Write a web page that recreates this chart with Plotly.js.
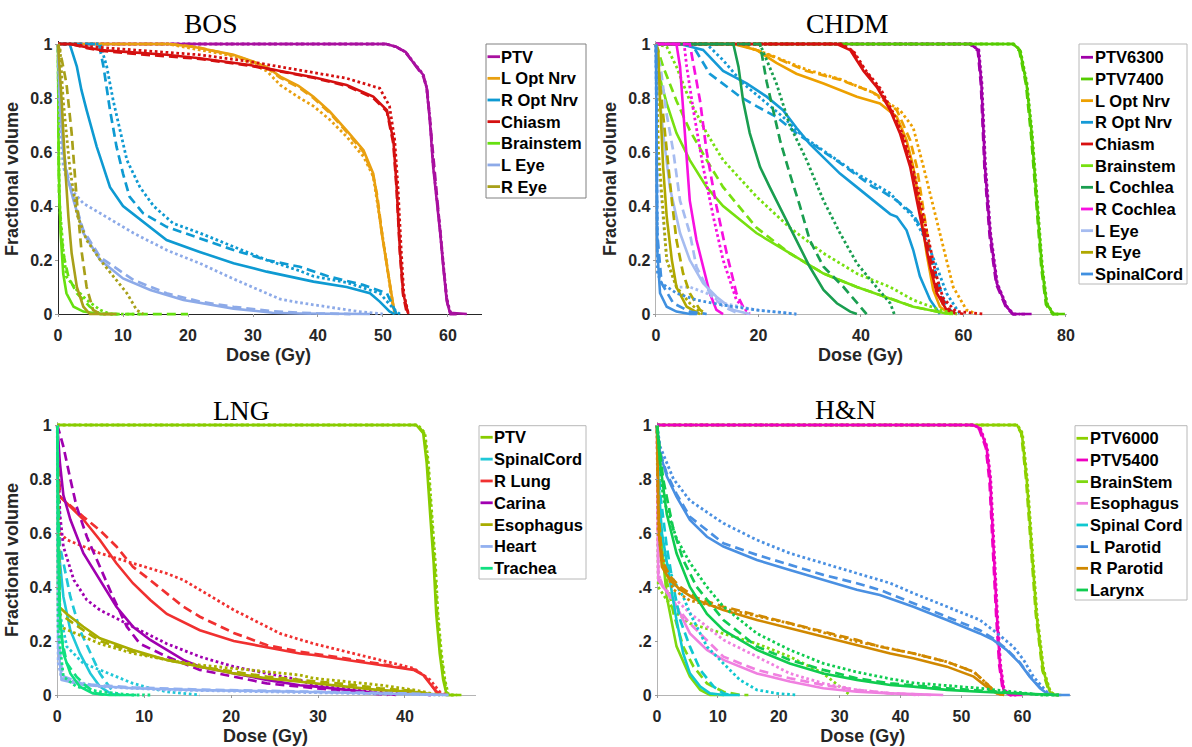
<!DOCTYPE html>
<html><head><meta charset="utf-8">
<script src="https://cdn.plot.ly/plotly-3.0.1.min.js"></script>
<style>html,body{margin:0;padding:0;background:#fff}#chart{width:1192px;height:747px}</style>
</head><body><div id="chart"></div>
<script>
// ================= DATA: BOS =================
const BOS_NAMES = ['PTV','L Opt Nrv','R Opt Nrv','Chiasm','Brainstem','L Eye','R Eye'];
const BOS_COLORS = ['#A8109F','#E9A010','#0E9AD2','#D41010','#66E010','#8DAAE8','#A8A01A'];
const BOS_PTV = [[0,1],[50.5,1],[52,0.99],[53.5,0.97],[54.7,0.93],[56.2,0.885],[56.7,0.84],[57.2,0.72],[57.7,0.55],[58.3,0.42],[58.8,0.30],[59.3,0.17],[59.8,0.05],[60.3,0.005],[62.9,0]];
const BOS_PTV_DASH = [[0,1],[50.5,1],[52,0.99],[53.5,0.968],[54.7,0.93],[56.2,0.88],[56.8,0.83],[57.3,0.70],[57.8,0.54],[58.4,0.40],[58.9,0.28],[59.4,0.15],[59.9,0.04],[60.4,0],[61.5,0]];
const BOS_PTV_DOT = [[0,1],[50.5,1],[52,0.99],[53.5,0.97],[54.7,0.932],[56.2,0.887],[56.7,0.84],[57.2,0.73],[57.7,0.56],[58.3,0.43],[58.8,0.31],[59.3,0.18],[59.8,0.06],[60.3,0.01],[61,0]];
const BOS_LON = [[0,1],[17,1],[20.8,0.99],[24,0.975],[27,0.96],[30,0.935],[32.1,0.915],[34.2,0.879],[37,0.845],[39.3,0.805],[41.8,0.75],[44.4,0.68],[47,0.607],[48.5,0.52],[49,0.447],[49.8,0.30],[50.6,0.175],[51.4,0.05],[51.8,0]];
const BOS_LON_DASH = [[0,1],[17,1],[21,0.99],[24,0.975],[27,0.958],[30,0.935],[32.1,0.912],[34.2,0.875],[37,0.84],[39.3,0.8],[41.8,0.745],[44.4,0.675],[47,0.6],[48.5,0.51],[49.1,0.44],[49.9,0.29],[50.7,0.16],[51.5,0.04],[51.9,0]];
const BOS_LON_DOT = [[0,1],[17,1],[21.8,0.978],[25,0.965],[28,0.948],[32.1,0.9],[34.2,0.848],[37.2,0.8],[39.3,0.77],[41.8,0.72],[44.4,0.657],[47,0.583],[48.5,0.51],[49.5,0.36],[50.5,0.2],[51.2,0.08],[51.8,0]];
const BOS_RON = [[0,1],[1.8,1],[2.9,0.916],[3.6,0.83],[4.4,0.755],[5.2,0.68],[5.95,0.62],[6.5,0.58],[8,0.47],[10,0.4],[12.6,0.35],[16.7,0.274],[21.8,0.23],[27,0.188],[32.1,0.157],[37.2,0.132],[39.3,0.12],[44.4,0.10],[48,0.077],[49.5,0.046],[51,0.01],[51.8,0]];
const BOS_RON_DASH = [[0,1],[6.3,1],[7,0.916],[8,0.755],[9,0.62],[10,0.52],[11,0.435],[13.1,0.373],[16.7,0.323],[21.8,0.28],[27,0.237],[32.1,0.2],[37.2,0.175],[41.8,0.138],[46.9,0.108],[50.6,0.077],[51.5,0.03],[52.1,0]];
const BOS_RON_DOT = [[0,1],[6.5,1],[7.5,0.916],[8.5,0.79],[10.6,0.57],[12.6,0.47],[14.7,0.4],[17.7,0.336],[21.8,0.3],[27,0.25],[32.1,0.2],[37.2,0.16],[39.3,0.14],[44.4,0.117],[49.5,0.077],[51.8,0.015],[52.6,0]];
const BOS_CHI = [[0,1],[1.8,1],[4,0.99],[6.5,0.978],[11,0.97],[16.7,0.96],[21.8,0.947],[29.5,0.922],[34.2,0.9],[39.3,0.877],[44.4,0.848],[48.5,0.805],[50.6,0.755],[51.6,0.644],[52.1,0.47],[52.6,0.237],[53.1,0.077],[53.9,0]];
const BOS_CHI_DASH = [[0,1],[2,1],[4.5,0.985],[6.5,0.975],[11,0.965],[16.7,0.955],[21.8,0.945],[29.5,0.92],[34.2,0.898],[39.3,0.875],[44.4,0.845],[48.5,0.8],[50.6,0.75],[51.6,0.63],[52.1,0.46],[52.6,0.23],[53.1,0.07],[53.7,0]];
const BOS_CHI_DOT = [[0,1],[2.5,1],[5,0.99],[11,0.98],[16.7,0.968],[21.8,0.96],[29.5,0.935],[34.2,0.916],[39.3,0.895],[44.4,0.873],[49.5,0.836],[51,0.77],[51.8,0.644],[52.3,0.47],[52.8,0.237],[53.2,0.077],[53.9,0]];
const BOS_BST = [[0,1],[0.1,0.55],[0.4,0.3],[0.8,0.15],[1.3,0.077],[2.4,0.027],[3.9,0.009],[6,0.002],[9,0]];
const BOS_BST_DASH = [[0,1],[0.15,0.45],[0.5,0.3],[0.8,0.225],[1.6,0.138],[2.9,0.077],[4.9,0.027],[6.5,0],[20,0]];
const BOS_BST_DOT = [[0,1],[0.2,0.42],[0.8,0.237],[1.3,0.138],[2.9,0.089],[4.4,0.052],[6.5,0.015],[8,0],[13,0]];
const BOS_LEYE = [[0,1],[0.3,0.79],[0.8,0.607],[1.3,0.52],[2.4,0.42],[3.9,0.3],[6.5,0.2],[10,0.132],[14.2,0.089],[19.3,0.052],[27,0.02],[33,0.005],[37.2,0.002],[48,0]];
const BOS_LEYE_DASH = [[0,1],[0.3,0.8],[0.8,0.62],[1.3,0.53],[2.4,0.43],[3.9,0.31],[6.5,0.21],[11.6,0.126],[16.7,0.077],[21.8,0.046],[27,0.027],[33,0.01],[40,0.002],[45,0]];
const BOS_LEYE_DOT = [[0,1],[0.3,0.7],[0.8,0.55],[1.3,0.5],[2.4,0.45],[3.9,0.41],[6.5,0.373],[11.6,0.3],[16.7,0.237],[21.8,0.188],[27,0.13],[32.1,0.075],[34.2,0.055],[37.2,0.042],[42,0.025],[46,0.01],[50,0]];
const BOS_REYE = [[0,1],[0.3,0.9],[0.56,0.79],[1.1,0.545],[1.6,0.36],[2.1,0.225],[2.9,0.1],[3.9,0.027],[4.9,0],[9,0]];
const BOS_REYE_DASH = [[0,1],[0.6,0.94],[1.3,0.854],[2.1,0.67],[2.9,0.42],[3.6,0.237],[4.4,0.1],[5.4,0.015],[6.5,0],[9,0]];
const BOS_REYE_DOT = [[0,1],[0.3,0.99],[0.8,0.79],[1.8,0.545],[2.9,0.37],[4.4,0.274],[6.5,0.2],[8.5,0.138],[10.6,0.077],[12.1,0.015],[13.1,0]];

// ================= DATA: CHDM =================
const CHDM_NAMES = ['PTV6300','PTV7400','L Opt Nrv','R Opt Nrv','Chiasm','Brainstem','L Cochlea','R Cochlea','L Eye','R Eye','SpinalCord'];
const CHDM_COLORS = ['#A000A8','#55CC00','#EDA000','#159AD6','#D81010','#77E010','#1A9E50','#F810E0','#A6BCF0','#B0A800','#4090E0'];
const CH_P63 = [[0,1],[61.3,1],[62.9,0.978],[63.5,0.854],[64.2,0.545],[65.2,0.3],[66.5,0.114],[68.4,0.027],[69.7,0],[73.3,0]];
const CH_P63_DASH = [[0,1],[61.2,1],[62.8,0.975],[63.4,0.85],[64.1,0.54],[65.1,0.29],[66.4,0.11],[68.3,0.025],[69.6,0],[72,0]];
const CH_P63_DOT = [[0,1],[61.4,1],[63,0.978],[63.6,0.854],[64.3,0.55],[65.3,0.3],[66.6,0.114],[68.5,0.027],[69.8,0],[71,0]];
const CH_P74 = [[0,1],[69.7,1],[71,0.978],[72.3,0.854],[73.3,0.67],[74.3,0.42],[75.3,0.175],[76.2,0.04],[77.5,0],[79.8,0]];
const CH_P74_DASH = [[0,1],[69.6,1],[70.9,0.975],[72.2,0.85],[73.2,0.66],[74.2,0.41],[75.2,0.17],[76.1,0.035],[77.4,0],[78.5,0]];
const CH_P74_DOT = [[0,1],[69.8,1],[71.1,0.978],[72.4,0.854],[73.4,0.67],[74.4,0.42],[75.4,0.175],[76.3,0.04],[77.6,0],[78.5,0]];
const CH_LON = [[0,1],[15.1,1],[19.6,0.978],[23.5,0.93],[27.4,0.89],[32.7,0.854],[39.2,0.805],[43.7,0.78],[47,0.73],[48.9,0.644],[50.2,0.545],[51.5,0.4],[52.8,0.225],[54.1,0.089],[55.4,0.027],[57.4,0]];
const CH_LON_DASH = [[0,1],[16,1],[20,0.975],[22.9,0.953],[29.4,0.9],[35.9,0.868],[42.4,0.82],[43.7,0.805],[47,0.755],[49.6,0.644],[50.9,0.545],[52.8,0.32],[54.1,0.15],[56.1,0.027],[58,0]];
const CH_LON_DOT = [[0,1],[16,1],[20,0.975],[22.9,0.955],[29.4,0.905],[35.9,0.87],[42.4,0.82],[43.7,0.8],[47.6,0.755],[50.2,0.69],[52.2,0.545],[54.1,0.4],[56.1,0.237],[58,0.1],[60.6,0.015],[62.6,0]];
const CH_RON = [[0,1],[4.7,1],[9.2,0.978],[13.1,0.9],[17.7,0.854],[21.6,0.805],[24.8,0.755],[27.4,0.69],[30,0.63],[32.7,0.58],[35.9,0.52],[39.2,0.47],[42.4,0.42],[45.7,0.37],[47,0.36],[48.9,0.31],[50.2,0.237],[51.5,0.14],[53.5,0.052],[55.4,0]];
const CH_RON_DASH = [[0,1],[7,1],[10.5,0.89],[16.4,0.805],[19.6,0.77],[23.5,0.73],[27.4,0.67],[31.3,0.62],[35.9,0.56],[42.4,0.47],[43.7,0.46],[47,0.42],[50.2,0.37],[52.2,0.3],[54.1,0.175],[56.1,0.052],[58,0]];
const CH_RON_DOT = [[0,1],[9.9,1],[13.1,0.94],[17,0.854],[21,0.79],[24.8,0.73],[28.7,0.657],[32.6,0.605],[39.2,0.52],[45.7,0.447],[47,0.42],[50.2,0.36],[52.8,0.27],[54.8,0.175],[56.7,0.077],[59.3,0]];
const CH_CHI = [[0,1],[35.3,1],[37.9,0.978],[40.5,0.9],[43.1,0.84],[45.7,0.755],[47.6,0.67],[49.6,0.545],[50.9,0.42],[52.2,0.3],[53.5,0.175],[54.8,0.077],[56.7,0.015],[58.7,0]];
const CH_CHI_DASH = [[0,1],[35.8,1],[38.3,0.975],[40.8,0.9],[43.5,0.835],[46,0.75],[48,0.66],[50,0.53],[51.3,0.41],[52.6,0.29],[54,0.16],[55.3,0.07],[57.5,0.01],[60,0]];
const CH_CHI_DOT = [[0,1],[36,1],[38.5,0.975],[41,0.9],[43.8,0.835],[46.3,0.745],[48.4,0.655],[50.4,0.52],[51.8,0.4],[53.2,0.28],[54.6,0.15],[56,0.06],[58.5,0.01],[63.9,0]];
const CH_BST = [[0,1],[0.5,0.9],[1.1,0.85],[2.1,0.78],[4,0.67],[6.6,0.57],[9.9,0.47],[13.1,0.4],[19.6,0.3],[26.1,0.225],[32.7,0.15],[39.2,0.1],[45.7,0.058],[50.2,0.027],[56.7,0.002],[57.5,0]];
const CH_BST_DASH = [[0,1],[1.4,0.916],[4,0.79],[6.6,0.68],[9.9,0.57],[13.1,0.47],[19.6,0.32],[26.1,0.225],[32.7,0.15],[39.2,0.1],[45.7,0.058],[50.2,0.027],[56.7,0.002],[58,0]];
const CH_BST_DOT = [[0,1],[2.1,0.99],[4,0.916],[6.6,0.79],[9.9,0.67],[13.1,0.57],[19.6,0.435],[26.1,0.32],[32.7,0.225],[39.2,0.15],[45.7,0.1],[50.2,0.052],[55.4,0.015],[58.7,0]];
const CH_LCO = [[0,1],[15.1,1],[16.1,0.916],[17,0.79],[18.3,0.67],[20.3,0.545],[22.2,0.47],[24.8,0.37],[27.4,0.274],[30,0.175],[32.7,0.089],[35.3,0.04],[37.9,0.009],[39.2,0]];
const CH_LCO_DASH = [[0,1],[20.3,1],[21.6,0.86],[22.9,0.755],[24.2,0.644],[26.1,0.52],[28.1,0.4],[30,0.274],[32.7,0.175],[36.6,0.1],[39.2,0.04],[41.1,0]];
const CH_LCO_DOT = [[0,1],[20.3,1],[23.5,0.854],[26.1,0.7],[29.4,0.57],[32.7,0.42],[35.9,0.3],[39.2,0.188],[42.4,0.114],[45.7,0.04],[46.5,0]];
const CH_RCO = [[0,1],[4,1],[4.7,0.916],[5.7,0.67],[6.6,0.42],[7.9,0.274],[9.2,0.175],[10.5,0.077],[11.8,0.015],[13.1,0]];
const CH_RCO_DASH = [[0,1],[6.6,1],[8.6,0.79],[9.9,0.6],[11.8,0.4],[13.8,0.225],[15.7,0.077],[17.7,0]];
const CH_RCO_DOT = [[0,1],[5.5,1],[6,0.916],[7.3,0.755],[9.2,0.545],[11.2,0.36],[13.1,0.2],[15.7,0.052],[18.3,0]];
const CH_LEYE = [[0,1],[0.5,0.85],[1.4,0.67],[2.7,0.47],[4.7,0.3],[6.6,0.2],[9.2,0.114],[11.8,0.064],[15.1,0.015],[18.3,0]];
const CH_LEYE_DASH = [[0,1],[1,0.9],[2,0.75],[3.4,0.6],[4.7,0.42],[6.6,0.3],[7.9,0.175],[10.5,0.077],[13.1,0.027],[16.4,0]];
const CH_LEYE_DOT = [[0,1],[0.3,0.6],[2.1,0.2],[4,0.1],[6.6,0.1],[9.9,0.077],[13.1,0.04],[19.6,0.015],[27.4,0]];
const CH_REYE = [[0,1],[0.45,0.978],[0.8,0.79],[1.4,0.545],[2.1,0.36],[3.1,0.2],[4,0.1],[6,0.027],[8.6,0]];
const CH_REYE_DASH = [[0,1],[1.1,0.79],[2.1,0.6],[3.1,0.42],[4,0.274],[5.3,0.15],[6.6,0.077],[8.6,0.015],[9.9,0]];
const CH_REYE_DOT = [[0,1],[0.5,0.6],[2.1,0.2],[4,0.1],[6.6,0.04],[9.1,0]];
const CH_SC = [[0,1],[0.1,0.5],[0.25,0.237],[0.8,0.077],[2.1,0.027],[4,0.009],[6.6,0],[8,0]];
const CH_SC_DASH = [[0,1],[0.25,0.3],[1.1,0.114],[3.4,0.04],[6.6,0.009],[9.9,0]];
const CH_SC_DOT = [[0,1],[0.3,0.15],[1.1,0.114],[4,0.077],[7.9,0.052],[13.1,0.033],[19.6,0.015],[27.4,0]];

// ================= DATA: LNG =================
const LNG_NAMES = ['PTV','SpinalCord','R Lung','Carina','Esophagus','Heart','Trachea'];
const LNG_COLORS = ['#88CC00','#20C8D8','#F03030','#A000B0','#A8AC00','#92B0F0','#10E080'];
const LN_PTV = [[0,1],[41.3,1],[42.1,0.97],[42.5,0.86],[42.9,0.67],[43.3,0.49],[43.6,0.3],[44,0.154],[44.4,0.056],[44.8,0],[46.5,0]];
const LN_PTV_DASH = [[0,1],[41.4,1],[42.2,0.97],[42.6,0.86],[43,0.67],[43.4,0.49],[43.7,0.3],[44.1,0.154],[44.5,0.056],[44.9,0],[46,0]];
const LN_PTV_DOT = [[0,1],[41.5,1],[42.3,0.97],[42.7,0.86],[43.1,0.67],[43.5,0.49],[43.8,0.3],[44.2,0.154],[44.6,0.056],[45,0],[46,0]];
const LN_SC = [[0,1],[0.12,0.55],[0.7,0.364],[1.5,0.24],[2.6,0.154],[3.8,0.08],[4.9,0.031],[6.1,0.006],[6.8,0]];
const LN_SC_DASH = [[0,1],[0.3,0.55],[0.7,0.49],[1.5,0.364],[2.6,0.24],[3.8,0.154],[4.9,0.08],[5.7,0.043],[6.4,0.012],[7.2,0]];
const LN_SC_DOT = [[0,1],[0.3,0.3],[1.1,0.179],[3,0.117],[4.9,0.093],[6.8,0.068],[8.7,0.043],[10.7,0.025],[12.6,0.012],[16.4,0]];
const LN_RL = [[0,1],[0.1,0.74],[1.1,0.71],[3,0.65],[4.9,0.574],[6.8,0.488],[8.7,0.414],[10.7,0.352],[12.6,0.3],[16.4,0.24],[20.3,0.2],[24.1,0.176],[27.9,0.154],[29.5,0.148],[33.3,0.13],[37.1,0.11],[41,0.093],[42.1,0.074],[42.9,0.043],[43.6,0.012],[44.4,0]];
const LN_RL_DASH = [[0,1],[0.3,0.735],[3,0.66],[4.9,0.61],[6.8,0.55],[8.7,0.475],[10.7,0.425],[12.6,0.377],[14.5,0.327],[16.4,0.29],[20.3,0.23],[24.1,0.185],[27.9,0.16],[33.3,0.135],[37.1,0.115],[41,0.095],[42.1,0.076],[42.9,0.045],[43.6,0.013],[44.4,0]];
const LN_RL_DOT = [[0,1],[0.3,0.6],[1.1,0.575],[3,0.55],[4.9,0.525],[8.7,0.488],[12.6,0.45],[14.5,0.426],[16.4,0.39],[20.3,0.315],[24.1,0.253],[25.6,0.228],[29.5,0.19],[33.3,0.16],[37.1,0.13],[41,0.099],[42.9,0.056],[44,0.012],[44.8,0]];
const LN_CAR = [[0,1],[0.3,0.86],[0.7,0.74],[1.5,0.65],[3,0.525],[4.9,0.426],[6.8,0.327],[8.7,0.253],[10.7,0.204],[12.6,0.167],[14.5,0.13],[16.4,0.105],[20.3,0.08],[24.1,0.056],[27.9,0.036],[29.5,0.032],[33.3,0.019],[37.1,0.006],[39,0]];
const LN_CAR_DASH = [[0,1],[0.7,0.92],[1.5,0.8],[2.2,0.7],[3.4,0.586],[4.9,0.475],[6.4,0.364],[8,0.253],[9.5,0.19],[12.6,0.142],[16.4,0.093],[20.3,0.068],[24.1,0.043],[27.9,0.031],[33.3,0.015],[38,0]];
const LN_CAR_DOT = [[0,1],[0.3,0.67],[0.7,0.55],[1.9,0.426],[3.4,0.352],[4.9,0.315],[8.7,0.253],[12.6,0.19],[16.4,0.142],[20.3,0.105],[24.1,0.08],[27.9,0.056],[29.5,0.036],[33.3,0.025],[37.1,0.012],[41,0.006],[43,0]];
const LN_ESO = [[0,1],[0.1,0.33],[1.1,0.3],[3,0.253],[4.9,0.21],[8.7,0.167],[12.6,0.13],[16.4,0.105],[20.3,0.08],[24.1,0.062],[27.9,0.049],[29.5,0.043],[33.3,0.031],[37.1,0.018],[41,0.012],[42.9,0.006],[44,0]];
const LN_ESO_DASH = [[0,1],[0.3,0.3],[3,0.24],[4.9,0.2],[8.7,0.16],[12.6,0.13],[16.4,0.105],[20.3,0.086],[24.1,0.068],[27.9,0.056],[33.3,0.04],[37.1,0.025],[41,0.015],[43.5,0]];
const LN_ESO_DOT = [[0,1],[0.3,0.253],[3,0.216],[4.9,0.19],[8.7,0.154],[12.6,0.13],[16.4,0.111],[20.3,0.099],[24.1,0.086],[27.9,0.074],[29.5,0.062],[33.3,0.049],[37.1,0.037],[41,0.019],[42.9,0.006],[44,0]];
const LN_HRT = [[0,1],[0.1,0.18],[0.5,0.056],[3,0.037],[8.7,0.025],[16.4,0.018],[27.9,0.012],[40,0.005],[45,0]];
const LN_HRT_DASH = [[0,1],[0.15,0.2],[0.6,0.07],[3,0.04],[8.7,0.028],[16.4,0.02],[27.9,0.013],[40,0.006],[45,0]];
const LN_HRT_DOT = [[0,1],[0.1,0.12],[0.5,0.06],[4.9,0.031],[12.6,0.019],[25,0.012],[38,0.006],[44,0]];
const LN_TRA = [[0,1],[0.1,0.55],[0.3,0.3],[0.7,0.154],[1.5,0.08],[2.6,0.031],[4.1,0.006],[6,0],[9.1,0]];
const LN_TRA_DASH = [[0,1],[0.3,0.24],[1.1,0.117],[2.2,0.068],[3.4,0.031],[4.5,0.006],[5.5,0]];
const LN_TRA_DOT = [[0,1],[0.1,0.24],[0.7,0.068],[2.2,0.031],[4.9,0.012],[8.7,0],[11,0]];

// ================= DATA: H&N =================
const HN_NAMES = ['PTV6000','PTV5400','BrainStem','Esophagus','Spinal Cord','L Parotid','R Parotid','Larynx'];
const HN_COLORS = ['#8CD000','#EE00C0','#7ED810','#F080E0','#10C8D0','#4A90E2','#D08800','#10CC50'];
const HN_P60 = [[0,1],[59.1,1],[59.9,0.97],[60.7,0.8],[61.5,0.55],[62.3,0.3],[63.4,0.093],[64.5,0.012],[65.3,0],[66.4,0]];
const HN_P60_DASH = [[0,1],[59,1],[59.8,0.97],[60.6,0.8],[61.4,0.55],[62.2,0.3],[63.3,0.09],[64.4,0.01],[65.2,0],[66,0]];
const HN_P60_DOT = [[0,1],[59.2,1],[60,0.97],[60.8,0.8],[61.6,0.55],[62.4,0.3],[63.5,0.093],[64.6,0.012],[65.4,0],[66,0]];
const HN_P54 = [[0,1],[51.9,1],[53,0.988],[54.1,0.92],[54.7,0.8],[55.2,0.55],[55.8,0.3],[56.3,0.117],[56.9,0.019],[58,0],[60,0]];
const HN_P54_DASH = [[0,1],[51.8,1],[52.9,0.985],[54,0.915],[54.6,0.79],[55.1,0.54],[55.7,0.29],[56.2,0.11],[56.8,0.015],[57.9,0],[59,0]];
const HN_P54_DOT = [[0,1],[52,1],[53.1,0.988],[54.2,0.92],[54.8,0.8],[55.3,0.55],[55.9,0.3],[56.4,0.117],[57,0.019],[58.1,0],[59,0]];
const HN_BST = [[0,1],[0.2,0.79],[0.8,0.55],[1.6,0.364],[3.2,0.18],[5.4,0.068],[7.1,0.019],[8.7,0],[11,0]];
const HN_BST_DASH = [[0,1],[0.5,0.6],[1,0.488],[2.7,0.303],[4.3,0.179],[6,0.105],[8.2,0.043],[10.9,0.012],[13.6,0],[15,0]];
const HN_BST_DOT = [[0,1],[0.2,0.4],[1.6,0.352],[3.2,0.303],[5.4,0.265],[10.9,0.228],[16.4,0.19],[21.8,0.142],[27.3,0.08],[30,0.031],[31.7,0]];
const HN_ESO = [[0,1],[0.2,0.426],[1,0.4],[2.7,0.352],[4.3,0.278],[5.4,0.228],[8.2,0.167],[10.9,0.13],[16.4,0.08],[21.8,0.05],[27.3,0.025],[32.8,0.012],[38.3,0.006],[47,0]];
const HN_ESO_DASH = [[0,1],[0.2,0.45],[1,0.4],[3.2,0.327],[5.4,0.265],[8.2,0.204],[10.9,0.142],[16.4,0.093],[21.8,0.062],[27.3,0.037],[32.8,0.019],[38.3,0.006],[45,0]];
const HN_ESO_DOT = [[0,1],[0.2,0.45],[1,0.4],[3.2,0.352],[5.4,0.303],[8.2,0.253],[10.9,0.204],[16.4,0.142],[21.8,0.08],[27.3,0.043],[32.8,0.019],[38.3,0.006],[43,0]];
const HN_SC = [[0,1],[0.2,0.8],[0.8,0.6],[2.1,0.426],[3.2,0.278],[4.3,0.154],[5.4,0.08],[7.1,0.031],[8.7,0.006],[10.9,0],[13.6,0]];
const HN_SC_DASH = [[0,1],[0.5,0.75],[1.6,0.549],[2.7,0.4],[3.8,0.278],[5.4,0.179],[7.1,0.093],[9.3,0.031],[10.9,0.006],[12,0]];
const HN_SC_DOT = [[0,1],[0.5,0.549],[2.7,0.426],[4.3,0.364],[5.4,0.303],[8.2,0.179],[10.9,0.117],[13.6,0.056],[16.4,0.019],[19.6,0.006],[22.9,0]];
const HN_LPA = [[0,1],[0.5,0.895],[1.6,0.81],[3.2,0.735],[5.4,0.648],[8.2,0.586],[10.9,0.55],[16.4,0.5],[21.8,0.463],[27.3,0.426],[32.8,0.39],[36.6,0.37],[42.1,0.327],[47.6,0.278],[53,0.228],[55.2,0.204],[57.4,0.167],[59.6,0.117],[61.2,0.068],[62.9,0.025],[64,0.006],[65,0],[67.8,0]];
const HN_LPA_DASH = [[0,1],[0.5,0.9],[1.6,0.82],[3.2,0.745],[5.4,0.66],[10.9,0.562],[16.4,0.519],[21.8,0.482],[27.3,0.445],[32.8,0.414],[36.6,0.389],[42.1,0.34],[47.6,0.29],[53,0.24],[55.2,0.21],[57.4,0.17],[59.6,0.12],[61.2,0.07],[62.9,0.027],[64,0.006],[65,0]];
const HN_LPA_DOT = [[0,1],[0.5,0.92],[2.7,0.8],[5.4,0.72],[10.9,0.636],[16.4,0.574],[21.8,0.525],[27.3,0.488],[32.8,0.45],[38.3,0.414],[42.1,0.377],[47.6,0.327],[53,0.278],[55.9,0.228],[58.5,0.179],[60.2,0.13],[61.8,0.068],[64,0.012],[65,0]];
const HN_RPA = [[0,1],[0.1,0.85],[0.3,0.6],[0.8,0.475],[2.1,0.426],[3.8,0.39],[6.5,0.352],[10.9,0.315],[16.4,0.278],[21.8,0.247],[27.3,0.216],[32.8,0.185],[38.3,0.154],[42.1,0.136],[47.6,0.105],[52,0.068],[54.1,0.031],[55.8,0.006],[57,0]];
const HN_RPA_DASH = [[0,1],[0.2,0.7],[0.8,0.5],[2.1,0.44],[3.8,0.4],[6.5,0.36],[10.9,0.327],[21.8,0.265],[32.8,0.204],[36.6,0.179],[42.1,0.154],[47.6,0.123],[52,0.086],[54.1,0.043],[55.8,0.006],[57,0]];
const HN_RPA_DOT = [[0,1],[0.2,0.6],[0.8,0.52],[1.6,0.45],[2.7,0.39],[5.4,0.35],[10.9,0.32],[21.8,0.265],[32.8,0.198],[36.6,0.179],[42.1,0.154],[47.6,0.123],[52,0.086],[54.1,0.043],[55.8,0.006],[57,0]];
const HN_LAR = [[0,1],[0.5,0.86],[1.6,0.67],[3.2,0.525],[5.4,0.4],[8.2,0.3],[10.9,0.24],[16.4,0.167],[21.8,0.117],[27.3,0.08],[32.8,0.056],[38.3,0.037],[42.1,0.031],[47.6,0.019],[53,0.012],[58.5,0.006],[64,0],[66,0]];
const HN_LAR_DASH = [[0,1],[1,0.8],[2.7,0.611],[4.3,0.5],[6.5,0.401],[10.9,0.278],[16.4,0.179],[21.8,0.13],[27.3,0.093],[32.8,0.062],[38.3,0.043],[47.6,0.025],[58.5,0.008],[64,0]];
const HN_LAR_DOT = [[0,1],[1,0.73],[3.2,0.58],[5.4,0.49],[8.2,0.4],[10.9,0.327],[16.4,0.228],[21.8,0.167],[27.3,0.117],[32.8,0.085],[38.3,0.06],[42.1,0.045],[47.6,0.035],[53,0.025],[58.5,0.012],[63,0],[66,0]];

// tick labels
const BOS_XTICKS = [0,10,20,30,40,50,60];
const CHDM_XTICKS = [0,20,40,60,80];
const LNG_XTICKS = [0,10,20,30,40];
const HN_XTICKS = [0,10,20,30,40,50,60];
const Y_TICKS = [0,0.2,0.4,0.6,0.8,1];
const Y_LABELS = ['0','0.2','0.4','0.6','0.8','1'];
const HN_Y_LABELS = ['0','.2','.4','.6','.8','1'];

// ================= BUILD =================
const PANELS = [
  {names:BOS_NAMES, colors:BOS_COLORS, xa:'x', ya:'y',
   solid:[BOS_PTV,BOS_LON,BOS_RON,BOS_CHI,BOS_BST,BOS_LEYE,BOS_REYE],
   dash:[BOS_PTV_DASH,BOS_LON_DASH,BOS_RON_DASH,BOS_CHI_DASH,BOS_BST_DASH,BOS_LEYE_DASH,BOS_REYE_DASH],
   dot:[BOS_PTV_DOT,BOS_LON_DOT,BOS_RON_DOT,BOS_CHI_DOT,BOS_BST_DOT,BOS_LEYE_DOT,BOS_REYE_DOT],
   leg:{l:486,r:586,t:44,b:198,y0:56.7,step:21.65,lx0:487.5,lx1:500,tx:500,border:'#808080'}},
  {names:CHDM_NAMES, colors:CHDM_COLORS, xa:'x2', ya:'y2',
   solid:[CH_P63,CH_P74,CH_LON,CH_RON,CH_CHI,CH_BST,CH_LCO,CH_RCO,CH_LEYE,CH_REYE,CH_SC],
   dash:[CH_P63_DASH,CH_P74_DASH,CH_LON_DASH,CH_RON_DASH,CH_CHI_DASH,CH_BST_DASH,CH_LCO_DASH,CH_RCO_DASH,CH_LEYE_DASH,CH_REYE_DASH,CH_SC_DASH],
   dot:[CH_P63_DOT,CH_P74_DOT,CH_LON_DOT,CH_RON_DOT,CH_CHI_DOT,CH_BST_DOT,CH_LCO_DOT,CH_RCO_DOT,CH_LEYE_DOT,CH_REYE_DOT,CH_SC_DOT],
   leg:{l:1079,r:1187,t:44,b:284,y0:57.3,step:21.67,lx0:1081,lx1:1093,tx:1093.5,border:'#b8b8b8'}},
  {names:LNG_NAMES, colors:LNG_COLORS, xa:'x3', ya:'y3',
   solid:[LN_PTV,LN_SC,LN_RL,LN_CAR,LN_ESO,LN_HRT,LN_TRA],
   dash:[LN_PTV_DASH,LN_SC_DASH,LN_RL_DASH,LN_CAR_DASH,LN_ESO_DASH,LN_HRT_DASH,LN_TRA_DASH],
   dot:[LN_PTV_DOT,LN_SC_DOT,LN_RL_DOT,LN_CAR_DOT,LN_ESO_DOT,LN_HRT_DOT,LN_TRA_DOT],
   leg:{l:479,r:586,t:425.7,b:579,y0:437.3,step:21.83,lx0:480.5,lx1:492.7,tx:492.5,border:'#b8b8b8'}},
  {names:HN_NAMES, colors:HN_COLORS, xa:'x4', ya:'y4',
   solid:[HN_P60,HN_P54,HN_BST,HN_ESO,HN_SC,HN_LPA,HN_RPA,HN_LAR],
   dash:[HN_P60_DASH,HN_P54_DASH,HN_BST_DASH,HN_ESO_DASH,HN_SC_DASH,HN_LPA_DASH,HN_RPA_DASH,HN_LAR_DASH],
   dot:[HN_P60_DOT,HN_P54_DOT,HN_BST_DOT,HN_ESO_DOT,HN_SC_DOT,HN_LPA_DOT,HN_RPA_DOT,HN_LAR_DOT],
   leg:{l:1075,r:1187,t:425.7,b:600,y0:438.3,step:21.67,lx0:1076.5,lx1:1088,tx:1089,border:'#b8b8b8'}}
];

const W = 1192, H = 747;
const px = v => v / W;
const py = v => 1 - v / H;
const SANS = 'Liberation Sans, Arial, sans-serif';

const traces = [];
const shapes = [];
const annotations = [];

function addCurve(pts, color, dash, width, p, name) {
  traces.push({
    type:'scatter', mode:'lines',
    x: pts.map(q => q[0]), y: pts.map(q => q[1]),
    xaxis: p.xa, yaxis: p.ya, name: name, showlegend: false,
    line: {color: color, width: width, dash: dash, shape: 'linear'},
    hovertemplate: name + '<br>%{x} Gy, %{y}<extra></extra>'
  });
}

PANELS.forEach(p => {
  p.names.forEach((n, i) => {
    addCurve(p.dot[i], p.colors[i], '2.7px,2.7px', 2.8, p, n + ' (dotted)');
    addCurve(p.dash[i], p.colors[i], '9px,5px', 2.7, p, n + ' (dashed)');
    addCurve(p.solid[i], p.colors[i], 'solid', 2.6, p, n);
  });
  const L = p.leg;
  shapes.push({type:'rect', xref:'paper', yref:'paper', x0:px(L.l), x1:px(L.r), y0:py(L.b), y1:py(L.t),
    line:{color:L.border, width:1}, fillcolor:'#ffffff', layer:'above'});
  p.names.forEach((n, i) => {
    const yc = L.y0 + i * L.step;
    shapes.push({type:'line', xref:'paper', yref:'paper', x0:px(L.lx0), x1:px(L.lx1), y0:py(yc), y1:py(yc),
      line:{color:p.colors[i], width:2.8}, layer:'above'});
    annotations.push({xref:'paper', yref:'paper', x:px(L.tx), y:py(yc), xanchor:'left', yanchor:'middle',
      text:n, showarrow:false, borderpad:0,
      font:{family:SANS, size:16.5, weight:'bold', color:'#000000'}});
  });
});

const TITLES = [['BOS',211,24],['CHDM',847,23],['LNG',241,410],['H&amp;N',846,409]];
TITLES.forEach(t => annotations.push({xref:'paper', yref:'paper', x:px(t[1]), y:py(t[2]),
  xanchor:'center', yanchor:'middle', text:t[0], showarrow:false,
  font:{family:'Liberation Serif, Times New Roman, serif', size:27.5, color:'#000000'}}));

const tickFont = {family:SANS, size:16, weight:'bold', color:'#262626'};
const titleFont = {family:SANS, size:18, weight:'bold', color:'#262626'};

function xAxis(domain, range, ticks, anchor, zc) {
  return {domain:domain, range:range, anchor:anchor, tickmode:'array', tickvals:ticks,
    ticktext: ticks.map(String), showgrid:false, showline:false,
    zeroline:true, zerolinecolor:zc, zerolinewidth:1,
    ticks:'inside', ticklen:3, tickcolor:'#9a9a9a', tickfont:tickFont, ticklabelstandoff:7,
    title:{text:'Dose (Gy)', font:titleFont, standoff:5}, fixedrange:true};
}
function yAxis(domain, anchor, labels, zc, title) {
  const a = {domain:domain, range:[-0.01,1.01], anchor:anchor, tickmode:'array', tickvals:Y_TICKS,
    ticktext:labels, showgrid:false, showline:false,
    zeroline:true, zerolinecolor:zc, zerolinewidth:1,
    ticks:'inside', ticklen:3, tickcolor:'#9a9a9a', tickfont:tickFont, ticklabelstandoff:2, fixedrange:true};
  if (title) a.title = {text:'Fractional volume', font:titleFont, standoff:6};
  return a;
}

const layout = {
  width:W, height:H, margin:{l:0,r:0,t:0,b:0}, paper_bgcolor:'#ffffff', plot_bgcolor:'#ffffff',
  showlegend:false,
  xaxis:  xAxis([0.04648,0.40419], [-0.4,65.2], BOS_XTICKS, 'y', '#262626'),
  yaxis:  yAxis([0.5760,0.9447], 'x', Y_LABELS, '#262626', true),
  xaxis2: xAxis([0.54815,0.89555], [-0.5,80.3], CHDM_XTICKS, 'y2', '#b4b4b4'),
  yaxis2: yAxis([0.5760,0.9447], 'x2', Y_LABELS, '#b4b4b4', true),
  xaxis3: xAxis([0.04589,0.39950], [-0.3,48.2], LNG_XTICKS, 'y3', '#b4b4b4'),
  yaxis3: yAxis([0.06600,0.43467], 'x3', Y_LABELS, '#b4b4b4', true),
  xaxis4: xAxis([0.54916,0.89858], [-0.4,68], HN_XTICKS, 'y4', '#b4b4b4'),
  yaxis4: yAxis([0.06600,0.43467], 'x4', HN_Y_LABELS, '#b4b4b4', false),
  shapes: shapes, annotations: annotations
};

Plotly.newPlot('chart', traces, layout, {displayModeBar:false});
</script></body></html>
